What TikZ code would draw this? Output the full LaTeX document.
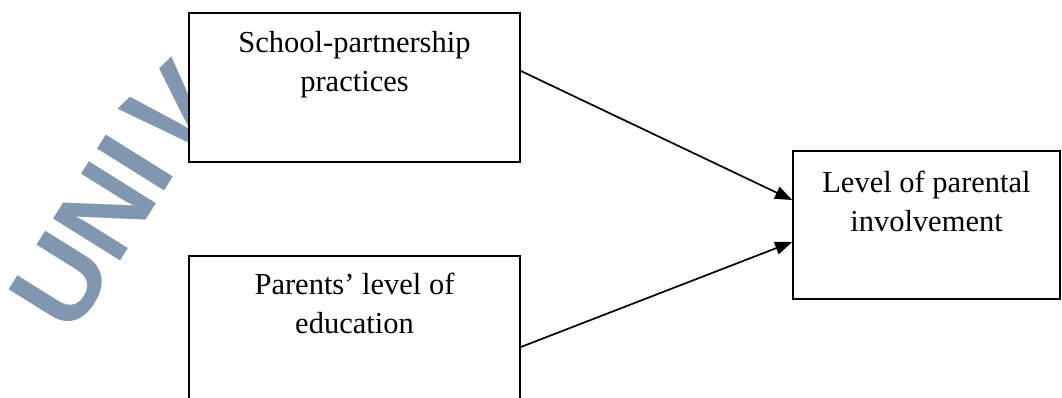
\documentclass[tikz,border=0pt]{standalone}
\usepackage{fontspec}
\setmainfont{Liberation Serif}
\newfontfamily\wmfont{Liberation Sans}
\usetikzlibrary{arrows.meta,decorations.text}
\definecolor{wmblue}{RGB}{128,151,175}
\tikzset{
  box/.style={draw=black, fill=white, line width=1.8pt, rectangle, inner sep=0pt},
  lbl/.style={align=center, inner sep=0pt, font=\fontsize{30.5}{39}\selectfont},
  conn/.style={line width=1.7pt, -{Triangle[length=17pt,width=13pt]}}
}
\begin{document}
\begin{tikzpicture}[x=1pt,y=1pt]
\useasboundingbox (0,0) rectangle (1062,398);
% watermark
\path[decorate, decoration={text along path, text color=wmblue,
  text={|\wmfont\bfseries\fontsize{115}{115}\selectfont|UNIVERSITY OF CAPE COAST}}]
  (72,60) -- ++(58:205) arc[start angle=148, delta angle=-58, radius=130] -- ++(0:175);
% boxes
\node[box, minimum width=331pt, minimum height=149pt] (b1) at (354.5,310.5) {};
\node[box, minimum width=331pt, minimum height=149pt] (b2) at (354.5,67.5) {};
\node[box, minimum width=267pt, minimum height=148pt] (b3) at (926.5,173) {};
% labels
\node[lbl, anchor=base] (t1) at (354.5,306) {School-partnership\\practices};
\node[lbl, anchor=base] (t2) at (354.5,64) {Parents’ level of\\education};
\node[lbl, anchor=base] (t3) at (926.5,166) {Level of parental\\involvement};
% connectors
\draw[conn] ([yshift=16.5pt]b1.east) -- ([yshift=25pt]b3.west);
\draw[conn] ([yshift=-16.5pt]b2.east) -- ([yshift=-17pt]b3.west);
\end{tikzpicture}
\end{document}
